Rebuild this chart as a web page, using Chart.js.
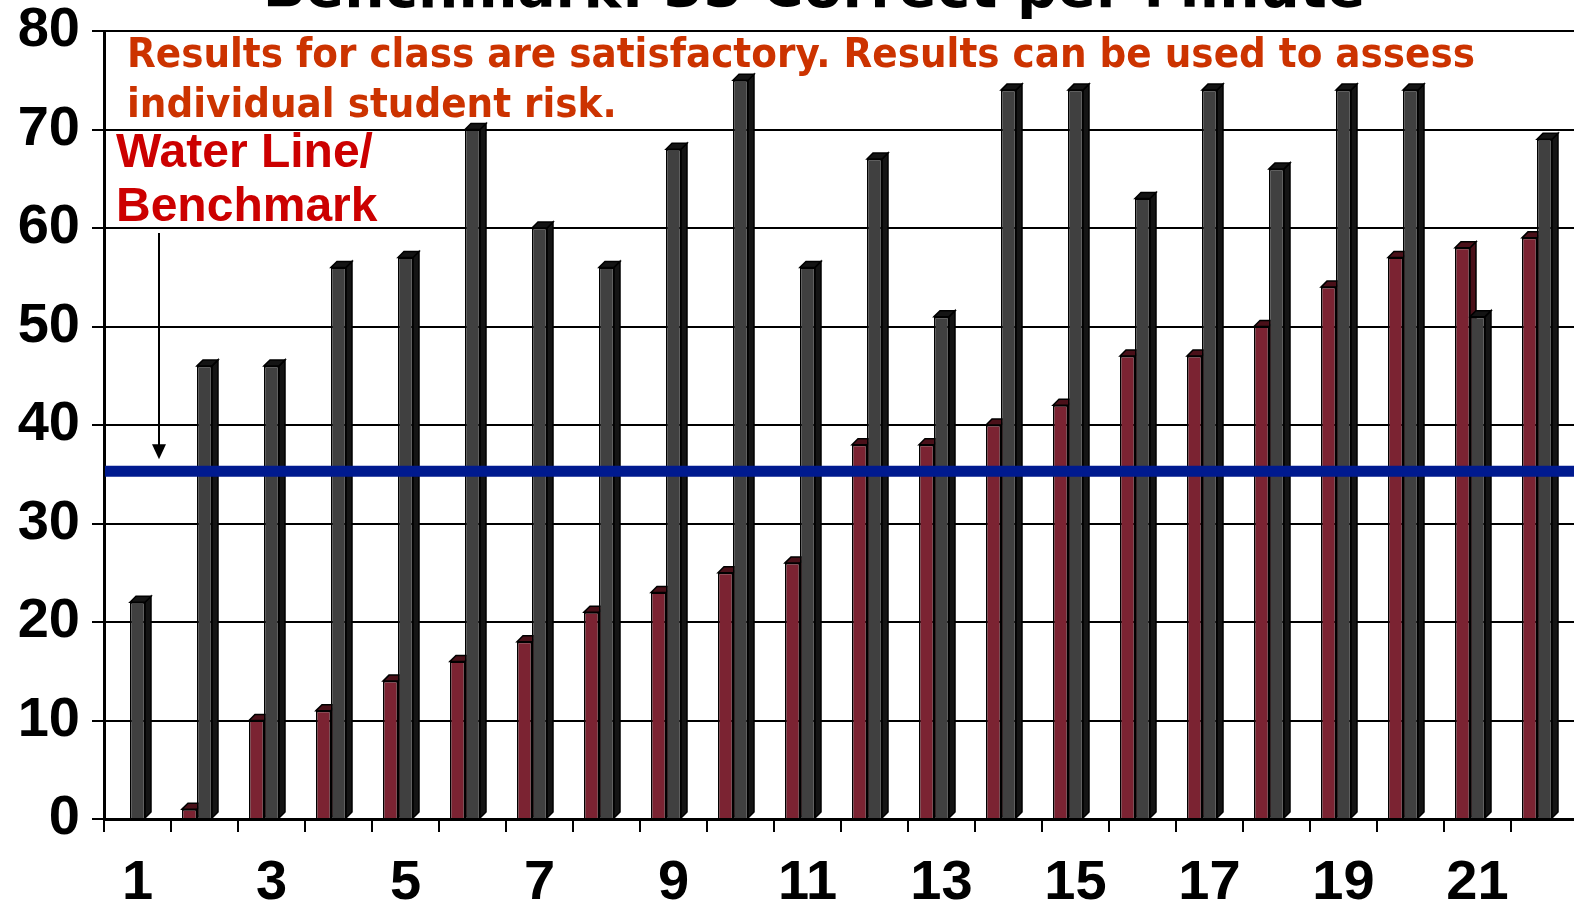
<!DOCTYPE html>
<html>
<head>
<meta charset="utf-8">
<script src="https://cdn.jsdelivr.net/npm/chart.js@4.4.1/dist/chart.umd.min.js"></script>
<style>
  html, body { margin: 0; padding: 0; background: #fff; overflow: hidden; }
  canvas { display: block; }
</style>
</head>
<body>
<canvas id="myChart" width="1578" height="909"></canvas>
<script>
// student numbers along the x axis
const students = ['1','2','3','4','5','6','7','8','9','10','11','12','13','14','15','16','17','18','19','20','21','22'];
// first probe (maroon) and second probe (dark gray), correct per minute
const firstProbe = [0, 1, 10, 11, 14, 16, 18, 21, 23, 25, 26, 38, 38, 40, 42, 47, 47, 50, 54, 57, 58, 59];
const secondProbe = [22, 46, 46, 56, 57, 70, 60, 56, 68, 75, 56, 67, 51, 74, 74, 63, 74, 66, 74, 74, 51, 69];
const benchmark = 35.3;
const yMin = 0, yMax = 80, yStep = 10;

const frontColors = ['#7b2332', '#404040'];
const sideColors = ['#4a1019', '#141414'];

// fake 3d look: side and top faces behind each bar
const barDepth = {
  id: 'barDepth',
  beforeDatasetsDraw(chart) {
    const ctx = chart.ctx;
    const d = 6;
    [0, 1].forEach(i => {
      chart.getDatasetMeta(i).data.forEach(bar => {
        const p = bar.getProps(['x', 'y', 'base', 'width'], true);
        if (p.base - p.y < 0.5) return;
        const l = p.x - p.width / 2, r = p.x + p.width / 2;
        ctx.save();
        ctx.lineWidth = 1.5;
        ctx.strokeStyle = '#000';
        ctx.fillStyle = sideColors[i];
        ctx.beginPath();
        ctx.moveTo(r, p.y); ctx.lineTo(r + d, p.y - d); ctx.lineTo(r + d, p.base - d); ctx.lineTo(r, p.base);
        ctx.closePath(); ctx.fill(); ctx.stroke();
        ctx.beginPath();
        ctx.moveTo(l, p.y); ctx.lineTo(l + d, p.y - d); ctx.lineTo(r + d, p.y - d); ctx.lineTo(r, p.y);
        ctx.closePath(); ctx.fill(); ctx.stroke();
        ctx.restore();
      });
    });
  }
};

// the blue water line across the whole plot
const waterLine = {
  id: 'waterLine',
  afterDatasetsDraw(chart) {
    const { ctx, chartArea } = chart;
    const y = chart.scales.y.getPixelForValue(benchmark);
    ctx.save();
    ctx.strokeStyle = '#001a8f';
    ctx.lineWidth = 11;
    ctx.beginPath();
    ctx.moveTo(chartArea.left + 1, y);
    ctx.lineTo(chartArea.right, y);
    ctx.stroke();
    ctx.restore();
  }
};

// title and the notes written on the chart
const notes = {
  id: 'notes',
  afterDraw(chart) {
    const ctx = chart.ctx;
    ctx.save();
    // title, mostly cut off at the top
    const title = 'Benchmark: 35 Correct per Minute';
    ctx.font = 'bold 50px "DejaVu Sans"';
    const tSize = 50 * 1103 / ctx.measureText(title).width;
    ctx.font = 'bold ' + tSize + 'px "DejaVu Sans"';
    ctx.fillStyle = '#000';
    ctx.textAlign = 'center';
    ctx.textBaseline = 'alphabetic';
    ctx.fillText(title, 814, 7);

    // orange comment
    ctx.textAlign = 'left';
    ctx.font = 'bold 41px "DejaVu Sans"';
    ctx.fillStyle = '#cc3300';
    const line1 = 'Results for class are satisfactory. Results can be used to assess';
    const line2 = 'individual student risk.';
    const squeeze = 1348 / ctx.measureText(line1).width;
    ctx.fillText(line1, 127, 67, 1348);
    ctx.fillText(line2, 127, 117, ctx.measureText(line2).width * squeeze);

    // water line label
    ctx.font = 'bold 48px "Liberation Sans", Arial';
    ctx.fillStyle = '#cc0000';
    ctx.fillText('Water Line/', 116, 167);
    ctx.fillText('Benchmark', 116, 221);

    // arrow down to the line
    const tipY = chart.scales.y.getPixelForValue(benchmark) - 12;
    ctx.strokeStyle = '#000';
    ctx.fillStyle = '#000';
    ctx.lineWidth = 2;
    ctx.beginPath();
    ctx.moveTo(159, 233);
    ctx.lineTo(159, tipY - 12);
    ctx.stroke();
    ctx.beginPath();
    ctx.moveTo(152, tipY - 15);
    ctx.lineTo(166, tipY - 15);
    ctx.lineTo(159, tipY);
    ctx.closePath();
    ctx.fill();
    ctx.restore();
  }
};

const tickFont = { family: '"Liberation Sans", Arial', size: 56, weight: 'bold' };

new Chart(document.getElementById('myChart'), {
  type: 'bar',
  data: {
    labels: students,
    datasets: [
      { label: 'First probe', data: firstProbe, backgroundColor: frontColors[0], borderColor: '#000', borderWidth: 1.5 },
      { label: 'Second probe', data: secondProbe, backgroundColor: frontColors[1], borderColor: '#000', borderWidth: 1.5 },
      // empty slot so the pair sits left of the category centre like the original
      { label: '', data: [] }
    ]
  },
  options: {
    responsive: false,
    animation: false,
    datasets: { bar: { categoryPercentage: 0.672, barPercentage: 1.0 } },
    layout: { padding: { top: 31, left: 0, right: 0, bottom: 0 } },
    plugins: {
      legend: { display: false },
      tooltip: { enabled: false }
    },
    scales: {
      x: {
        grid: { drawOnChartArea: false, tickLength: 13, color: '#000', lineWidth: 2, offset: true },
        border: { color: '#000', width: 3 },
        ticks: {
          autoSkip: false,
          maxRotation: 0,
          padding: 18,
          color: '#000',
          font: tickFont,
          callback: (v, i) => (i % 2 === 0 ? students[i] : '')
        },
        afterFit(scale) { scale.height = 90; }
      },
      y: {
        min: yMin,
        max: yMax,
        ticks: { stepSize: yStep, padding: 12, color: '#000', font: tickFont },
        grid: { color: '#000', lineWidth: 2, tickLength: 12 },
        border: { color: '#000', width: 3 },
        afterFit(scale) {
          scale.width = 104;
          scale.paddingTop = 0;
        }
      }
    }
  },
  plugins: [barDepth, waterLine, notes]
});
</script>
</body>
</html>
